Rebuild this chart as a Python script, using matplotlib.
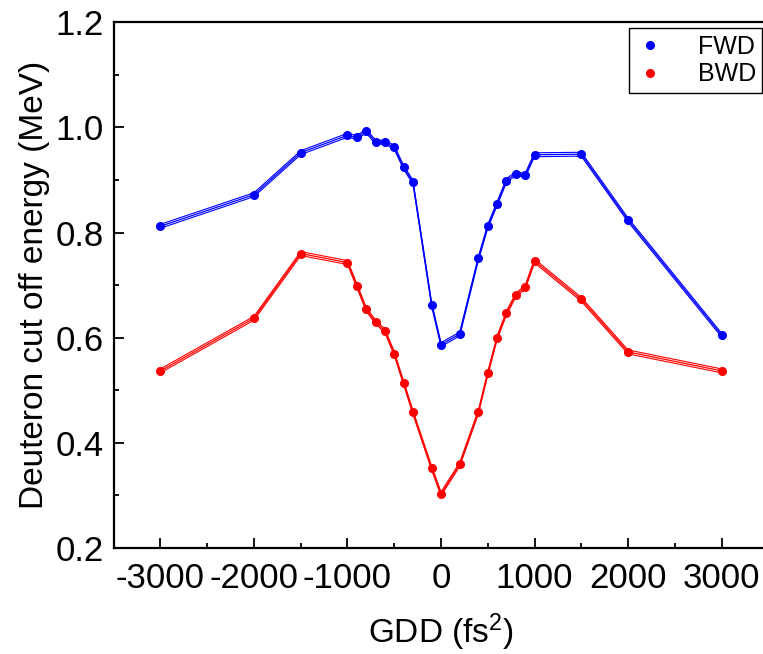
import matplotlib
matplotlib.use("Agg")
import matplotlib.pyplot as plt
from matplotlib.lines import Line2D
from matplotlib.transforms import offset_copy
from matplotlib.ticker import MultipleLocator

plt.rcParams['font.family'] = ['Liberation Sans', 'DejaVu Sans']
plt.rcParams['mathtext.default'] = 'regular'
plt.rcParams['axes.unicode_minus'] = False

# GDD values (fs^2) and deuteron cut-off energies (MeV)
gdd = [-3000, -2000, -1500, -1000, -900, -800, -700, -600, -500, -400, -300,
       -100, 0, 200, 400, 500, 600, 700, 800, 900, 1000, 1500, 2000, 3000]
fwd = [0.812, 0.872, 0.952, 0.985, 0.981, 0.993, 0.972, 0.972, 0.962, 0.924, 0.896,
       0.663, 0.587, 0.607, 0.751, 0.812, 0.855, 0.899, 0.912, 0.909, 0.948, 0.949, 0.824, 0.605]
bwd = [0.537, 0.637, 0.760, 0.743, 0.699, 0.654, 0.630, 0.613, 0.570, 0.514, 0.458,
       0.352, 0.303, 0.359, 0.459, 0.532, 0.600, 0.647, 0.681, 0.696, 0.746, 0.673, 0.573, 0.537]

fig = plt.figure(figsize=(7.63, 6.54), dpi=100)
ax = fig.add_axes([0.149, 0.162, 0.858, 0.804])

# each curve is drawn as a thin triple line, the middle one carries the markers
for y, col in [(fwd, '#0000ff'), (bwd, '#ff0000')]:
    for dy in (-1.4, 1.4):
        tr = offset_copy(ax.transData, fig=fig, x=0, y=dy, units='points')
        ax.plot(gdd, y, color=col, lw=0.8, transform=tr)
    ax.plot(gdd, y, color=col, lw=0.9, marker='o', ms=5.5)

ax.set_xlim(-3500, 3500)
ax.set_ylim(0.2, 1.2)
ax.xaxis.set_major_locator(MultipleLocator(1000))
ax.xaxis.set_minor_locator(MultipleLocator(500))
ax.yaxis.set_major_locator(MultipleLocator(0.2))
ax.yaxis.set_minor_locator(MultipleLocator(0.1))
ax.yaxis.set_major_formatter(matplotlib.ticker.FormatStrFormatter('%.1f'))

for s in ax.spines.values():
    s.set_linewidth(1.6)
ax.tick_params(which='both', direction='in', width=1.3, labelsize=25,
               top=False, right=False)
ax.tick_params(which='major', length=7, pad=7)
ax.tick_params(axis='x', which='major', pad=10)
ax.tick_params(which='minor', length=3.5)

ax.set_xlabel('GDD (fs$^2$)', fontsize=24, labelpad=12)
ax.set_ylabel('Deuteron cut off energy (MeV)', fontsize=24, labelpad=4)

handles = [Line2D([], [], ls='none', marker='o', ms=5.5, color='#0000ff'),
           Line2D([], [], ls='none', marker='o', ms=5.5, color='#ff0000')]
leg = ax.legend(handles, ['FWD', 'BWD'], loc='upper right', fontsize=18,
                frameon=True, fancybox=False, framealpha=1, edgecolor='black',
                borderaxespad=0.25, handletextpad=1.3, labelspacing=0.15,
                borderpad=0.25, handlelength=1.2)
leg.get_frame().set_linewidth(1.0)

fig.savefig('out.png', dpi=100)
